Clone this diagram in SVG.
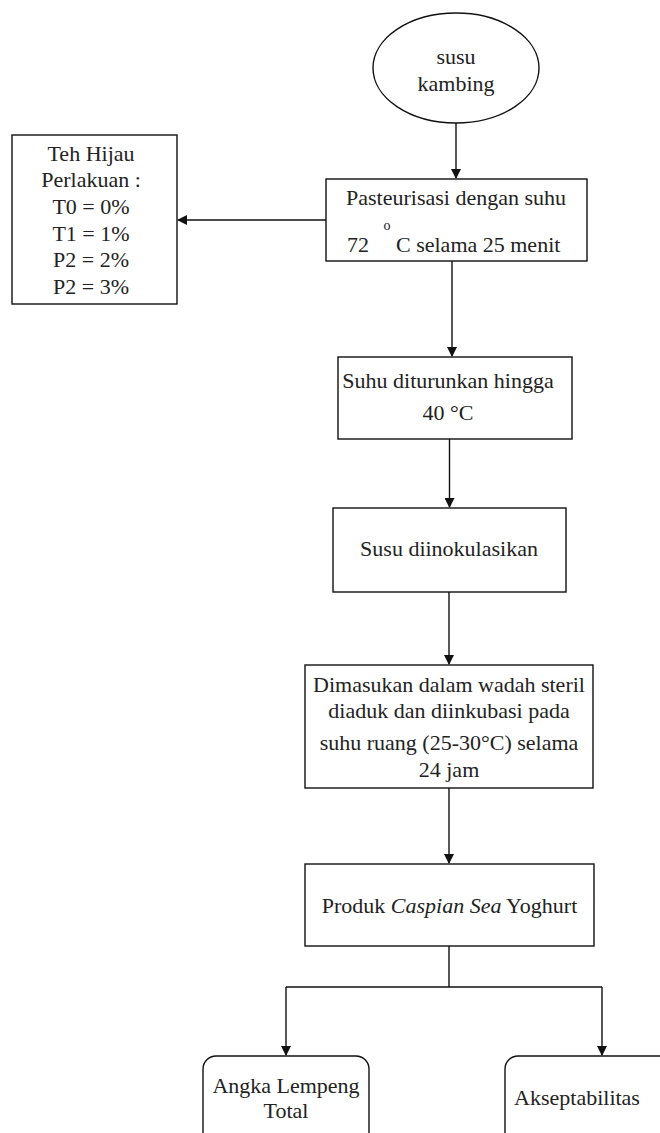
<svg xmlns="http://www.w3.org/2000/svg" width="660" height="1133" viewBox="0 0 660 1133">
<style>
.box{fill:#fff;stroke:#111;stroke-width:1.4}
.t{font-family:"Liberation Serif","Times New Roman",serif;font-size:22px;fill:#222;text-anchor:middle}
.line{fill:none;stroke:#111;stroke-width:1.4}
</style>
<defs>
<marker id="arr" markerWidth="10" markerHeight="10" refX="9" refY="5" orient="auto" markerUnits="userSpaceOnUse">
<path d="M0,0 L10,5 L0,10 Z" fill="#111"/>
</marker>
</defs>
<rect width="660" height="1133" fill="#fff"/>
<g id="connectors">
<path class="line" d="M456,123 V178" marker-end="url(#arr)"/>
<path class="line" d="M326,220 H178" marker-end="url(#arr)"/>
<path class="line" d="M452,261 V356" marker-end="url(#arr)"/>
<path class="line" d="M449.5,439 V507" marker-end="url(#arr)"/>
<path class="line" d="M449,592 V664" marker-end="url(#arr)"/>
<path class="line" d="M449,788 V863" marker-end="url(#arr)"/>
<path class="line" d="M449,946 V987 M286,987 H602"/>
<path class="line" d="M286,987 V1055" marker-end="url(#arr)"/>
<path class="line" d="M602,987 V1055" marker-end="url(#arr)"/>
</g>
<g id="susu-kambing">
<ellipse class="box" cx="456" cy="68" rx="83" ry="55"/>
<text class="t" x="456" y="64">susu</text>
<text class="t" x="456" y="91">kambing</text>
</g>
<g id="teh-hijau">
<rect class="box" x="12" y="135" width="165" height="169"/>
<text class="t" x="91" y="161">Teh Hijau</text>
<text class="t" x="91" y="187">Perlakuan :</text>
<text class="t" x="91" y="214">T0 = 0%</text>
<text class="t" x="91" y="241">T1 = 1%</text>
<text class="t" x="91" y="267">P2 = 2%</text>
<text class="t" x="91" y="294">P2 = 3%</text>
</g>
<g id="pasteurisasi">
<rect class="box" x="326" y="179" width="261" height="82"/>
<text class="t" x="456" y="205">Pasteurisasi dengan suhu</text>
<text class="t" x="387" y="230" style="font-size:14px">o</text>
<text class="t" x="358" y="252">72</text>
<text class="t" x="396" y="252" style="text-anchor:start">C selama 25 menit</text>
</g>
<g id="suhu-diturunkan">
<rect class="box" x="338" y="357" width="234" height="82"/>
<text class="t" x="448" y="388">Suhu diturunkan hingga</text>
<text class="t" x="448" y="420">40 °C</text>
</g>
<g id="susu-diinokulasikan">
<rect class="box" x="333" y="508" width="233" height="84"/>
<text class="t" x="449" y="556">Susu diinokulasikan</text>
</g>
<g id="dimasukan">
<rect class="box" x="305" y="665" width="288" height="123"/>
<text class="t" x="449" y="692">Dimasukan dalam wadah steril</text>
<text class="t" x="449" y="718">diaduk dan diinkubasi pada</text>
<text class="t" x="449" y="750">suhu ruang (25-30°C) selama</text>
<text class="t" x="449" y="777">24 jam</text>
</g>
<g id="produk">
<rect class="box" x="305" y="864" width="289" height="82"/>
<text class="t" x="449.5" y="913">Produk <tspan font-style="italic">Caspian Sea</tspan> Yoghurt</text>
</g>
<g id="angka-lempeng">
<rect class="box" x="203" y="1056" width="166" height="100" rx="13" ry="13"/>
<text class="t" x="286" y="1093">Angka Lempeng</text>
<text class="t" x="286" y="1118">Total</text>
</g>
<g id="akseptabilitas">
<rect class="box" x="505" y="1056" width="200" height="100" rx="13" ry="13"/>
<text class="t" x="577" y="1105">Akseptabilitas</text>
</g>
</svg>
